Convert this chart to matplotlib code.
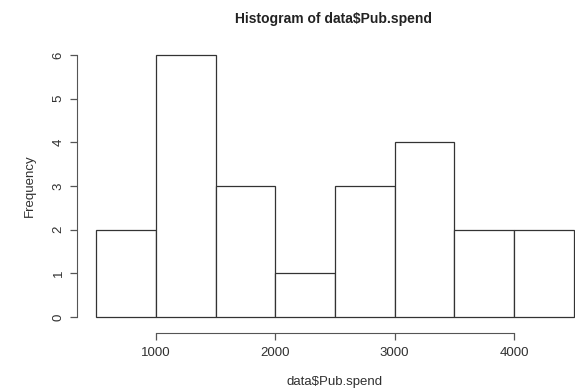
import numpy as np
import matplotlib
matplotlib.use("Agg")
from matplotlib import pyplot as plt

plt.rcParams['font.family'] = ['Liberation Sans', 'DejaVu Sans']

# histogram of pub spend: bin edges and counts per bin
bin_edges = [500, 1000, 1500, 2000, 2500, 3000, 3500, 4000, 4500]
counts = [2, 6, 3, 1, 3, 4, 2, 2]
x_ticks = [1000, 2000, 3000, 4000]
y_ticks = [0, 1, 2, 3, 4, 5, 6]

text_col = '#303030'
line_col = '#555555'

fig = plt.figure(figsize=(5.75, 3.89), dpi=100)
ax = fig.add_axes([0.134, 0.158, 0.897, 0.728])

edges = np.array(bin_edges)
ax.bar(edges[:-1], counts, width=np.diff(edges), align='edge',
       facecolor='white', edgecolor='#333333', linewidth=0.9)

# R-style padding around the data range
ax.set_xlim(340, 4660)
ax.set_ylim(-0.24, 6.24)

for side in ('top', 'right'):
    ax.spines[side].set_visible(False)
ax.spines['left'].set_bounds(0, 6)
ax.spines['bottom'].set_bounds(1000, 4000)
ax.spines['bottom'].set_position(('outward', 4))
ax.spines['left'].set_color(line_col)
ax.spines['bottom'].set_color(line_col)

ax.set_xticks(x_ticks)
ax.set_yticks(y_ticks)
ax.set_yticklabels([str(v) for v in y_ticks], rotation=90, va='center')
ax.tick_params(axis='both', length=5, width=0.9, color=line_col,
               labelsize=9.5, labelcolor=text_col)
ax.tick_params(axis='x', pad=5)
ax.tick_params(axis='y', pad=4)

ax.set_xlabel('data$Pub.spend', fontsize=9.5, color=text_col, labelpad=12)
ax.set_ylabel('Frequency', fontsize=9.5, color=text_col, labelpad=12)
fig.text(0.58, 0.952, 'Histogram of data$Pub.spend', ha='center', va='center',
         fontsize=10, fontweight='bold', color='#222222')

fig.savefig('out.png', dpi=100)
